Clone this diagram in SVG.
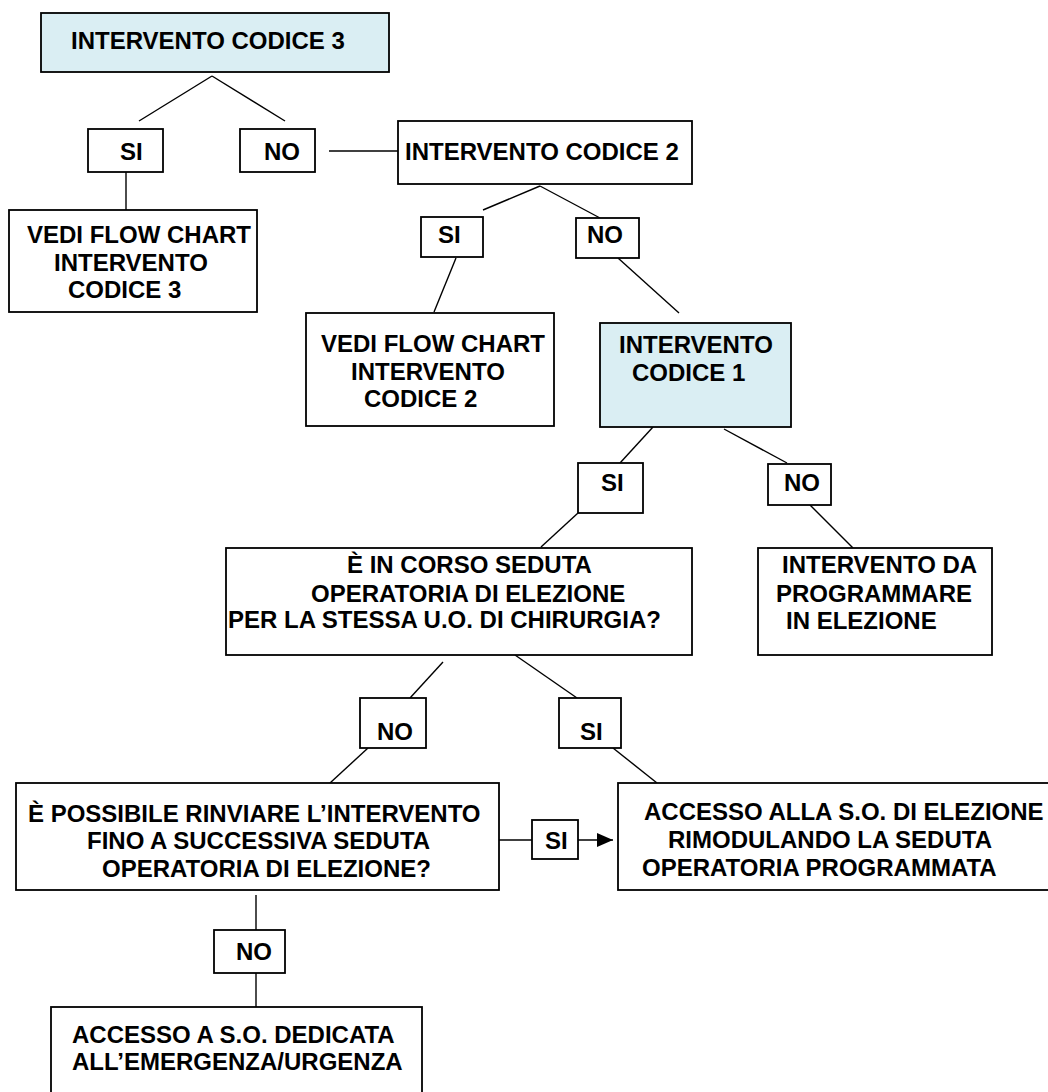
<svg xmlns="http://www.w3.org/2000/svg" width="1048" height="1092" viewBox="0 0 1048 1092">
<defs>
<style>
.box{fill:#ffffff;stroke:#000;stroke-width:1.8}
.hl{fill:#DAEEF3;stroke:#000;stroke-width:1.8}
.t{font-family:"Liberation Sans",Arial,sans-serif;font-weight:bold;font-size:24px;fill:#000}
.c line{stroke:#000;stroke-width:1.4}
</style>
<marker id="ah" markerWidth="16" markerHeight="14" refX="16" refY="7" orient="auto" markerUnits="userSpaceOnUse">
<path d="M0,0 L16,7 L0,14 z" fill="#000"/>
</marker>
</defs>
<rect width="1048" height="1092" fill="#fff"/>

<g id="connectors" class="c">
<line x1="212" y1="76" x2="139" y2="121"/>
<line x1="212" y1="76" x2="285" y2="121"/>
<line x1="126" y1="172" x2="126" y2="210"/>
<line x1="329" y1="151" x2="398" y2="151"/>
<line x1="540" y1="186" x2="483" y2="210"/>
<line x1="540" y1="186" x2="600" y2="218"/>
<line x1="456" y1="258" x2="434" y2="312"/>
<line x1="618" y1="258" x2="679" y2="313"/>
<line x1="653" y1="427" x2="620" y2="463"/>
<line x1="724" y1="429" x2="787" y2="463"/>
<line x1="578" y1="513" x2="541" y2="547"/>
<line x1="810" y1="505" x2="853" y2="548"/>
<line x1="443" y1="662" x2="410" y2="698"/>
<line x1="515" y1="655" x2="577" y2="698"/>
<line x1="368" y1="748" x2="330" y2="783"/>
<line x1="613" y1="748" x2="657" y2="783"/>
<line x1="499" y1="840" x2="532" y2="840"/>
<line x1="578" y1="840" x2="613" y2="840" stroke-width="2" marker-end="url(#ah)"/>
<line x1="256" y1="895" x2="256" y2="930"/>
<line x1="256" y1="973" x2="256" y2="1007"/>
</g>

<g id="n_codice3">
<rect class="hl" x="41" y="13" width="348" height="59"/>
<text class="t" x="71" y="49">INTERVENTO CODICE 3</text>
</g>
<g id="n_si1">
<rect class="box" x="88" y="129" width="75" height="43"/>
<text class="t" x="120" y="160">SI</text>
</g>
<g id="n_no1">
<rect class="box" x="240" y="129" width="75" height="43"/>
<text class="t" x="264" y="160">NO</text>
</g>
<g id="n_vedi3">
<rect class="box" x="9" y="210" width="248" height="102"/>
<text class="t" x="27" y="243">VEDI FLOW CHART</text>
<text class="t" x="54" y="271">INTERVENTO</text>
<text class="t" x="68" y="298">CODICE 3</text>
</g>
<g id="n_codice2">
<rect class="box" x="398" y="121" width="294" height="63"/>
<text class="t" x="405" y="160">INTERVENTO CODICE 2</text>
</g>
<g id="n_si2">
<rect class="box" x="421" y="217" width="62" height="40"/>
<text class="t" x="438" y="243">SI</text>
</g>
<g id="n_no2">
<rect class="box" x="576" y="218" width="63" height="40"/>
<text class="t" x="587" y="243">NO</text>
</g>
<g id="n_vedi2">
<rect class="box" x="306" y="313" width="248" height="113"/>
<text class="t" x="321" y="352">VEDI FLOW CHART</text>
<text class="t" x="351" y="380">INTERVENTO</text>
<text class="t" x="364" y="407">CODICE 2</text>
</g>
<g id="n_codice1">
<rect class="hl" x="600" y="323" width="191" height="104"/>
<text class="t" x="619" y="353">INTERVENTO</text>
<text class="t" x="632" y="381">CODICE 1</text>
</g>
<g id="n_si3">
<rect class="box" x="578" y="463" width="65" height="50"/>
<text class="t" x="601" y="491">SI</text>
</g>
<g id="n_no3">
<rect class="box" x="768" y="464" width="63" height="41"/>
<text class="t" x="784" y="491">NO</text>
</g>
<g id="n_incorso">
<rect class="box" x="226" y="548" width="466" height="107"/>
<text class="t" x="347" y="573">È IN CORSO SEDUTA</text>
<text class="t" x="311" y="602">OPERATORIA DI ELEZIONE</text>
<text class="t" x="228" y="628">PER LA STESSA U.O. DI CHIRURGIA?</text>
</g>
<g id="n_programmare">
<rect class="box" x="758" y="548" width="234" height="107"/>
<text class="t" x="782" y="573">INTERVENTO DA</text>
<text class="t" x="776" y="602">PROGRAMMARE</text>
<text class="t" x="786" y="629">IN ELEZIONE</text>
</g>
<g id="n_no4">
<rect class="box" x="360" y="698" width="66" height="50"/>
<text class="t" x="377" y="740">NO</text>
</g>
<g id="n_si4">
<rect class="box" x="559" y="698" width="62" height="50"/>
<text class="t" x="580" y="740">SI</text>
</g>
<g id="n_possibile">
<rect class="box" x="16" y="783" width="483" height="107"/>
<text class="t" x="28" y="822">È POSSIBILE RINVIARE L’INTERVENTO</text>
<text class="t" x="87" y="849">FINO A SUCCESSIVA SEDUTA</text>
<text class="t" x="102" y="877">OPERATORIA DI ELEZIONE?</text>
</g>
<g id="n_si5">
<rect class="box" x="532" y="820" width="46" height="39"/>
<text class="t" x="545" y="849">SI</text>
</g>
<g id="n_accesso_elezione">
<rect class="box" x="618" y="783" width="440" height="107"/>
<text class="t" x="644" y="820">ACCESSO ALLA S.O. DI ELEZIONE</text>
<text class="t" x="668" y="848">RIMODULANDO LA SEDUTA</text>
<text class="t" x="642" y="876">OPERATORIA PROGRAMMATA</text>
</g>
<g id="n_no5">
<rect class="box" x="214" y="930" width="71" height="43"/>
<text class="t" x="236" y="960">NO</text>
</g>
<g id="n_accesso_emergenza">
<rect class="box" x="51" y="1007" width="371" height="100"/>
<text class="t" x="72" y="1043">ACCESSO A S.O. DEDICATA</text>
<text class="t" x="72" y="1070">ALL’EMERGENZA/URGENZA</text>
</g>
</svg>
